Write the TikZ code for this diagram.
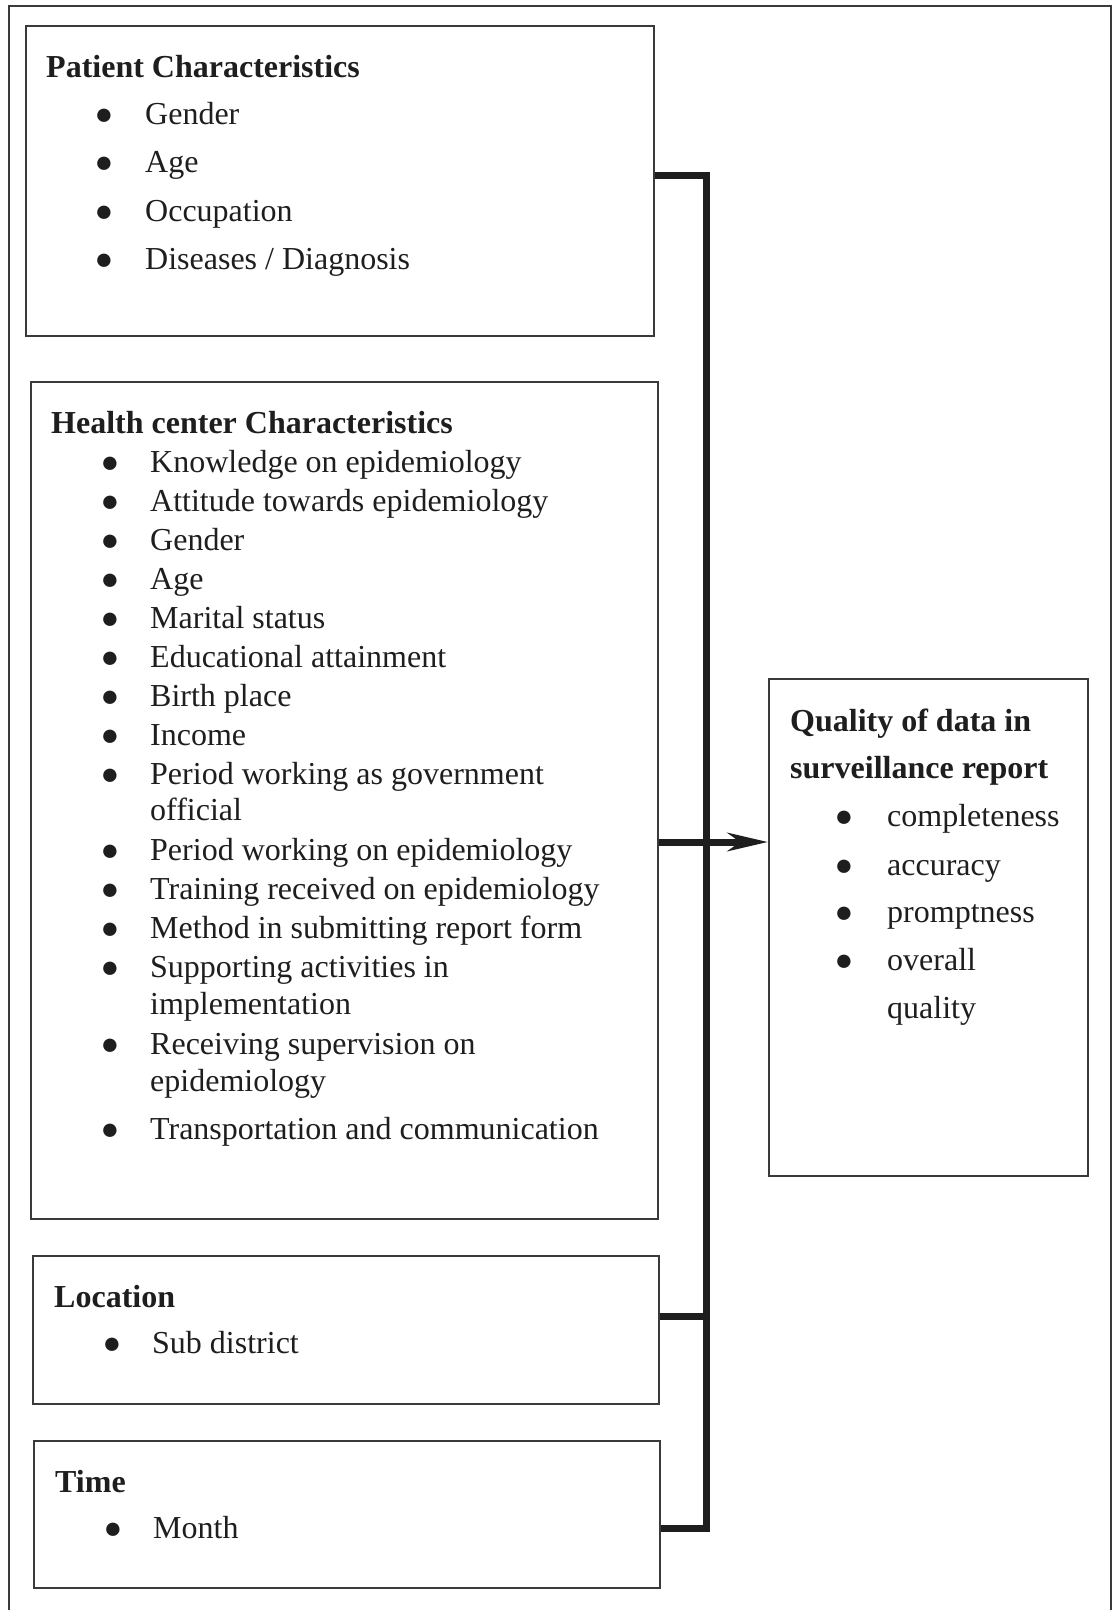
\documentclass[tikz,border=0pt]{standalone}
\usepackage{fontspec}
\setmainfont{Liberation Serif}
\usetikzlibrary{arrows.meta}
\definecolor{ink}{HTML}{1E1E1E}
\definecolor{frame}{HTML}{3A3A3A}
\tikzset{
  boxst/.style={draw=frame, line width=1.8pt, inner sep=0pt, fill=none},
  txt/.style={anchor=base west, inner sep=0pt, text=ink, font=\fontsize{32}{38}\selectfont},
  ttl/.style={anchor=base west, inner sep=0pt, text=ink, font=\fontsize{32}{38}\selectfont\bfseries},
  bul/.style={anchor=base, inner sep=0pt, text=ink, font=\fontsize{31}{34}\selectfont},
  conn/.style={draw=ink, line width=7pt, line join=miter},
}
\begin{document}
\begin{tikzpicture}[x=1pt,y=-1pt]
\useasboundingbox (0,0) rectangle (1114,1610);
\fill[white] (0,0) rectangle (1114,1610);
% outer frame
\draw[frame, line width=2pt] (9,1612) -- (9,6) -- (1111,6) -- (1111,1612);

% boxes
\node[boxst, minimum width=628pt, minimum height=310pt] (pc) at (340,181) {};
\node[boxst, minimum width=627pt, minimum height=837pt] (hc) at (344.5,800.5) {};
\node[boxst, minimum width=626pt, minimum height=148pt] (loc) at (346,1330) {};
\node[boxst, minimum width=626pt, minimum height=147pt] (tm) at (347,1514.5) {};
\node[boxst, minimum width=319pt, minimum height=497pt] (q) at (928.5,927.5) {};

% Patient characteristics
\node[ttl] (pct) at (46,77) {Patient Characteristics};
\foreach \y/\t [count=\i] in {124/{Gender},172.5/{Age},221/{Occupation},269/{Diseases / Diagnosis}}{
  \node[bul] (pcb\i) at (104,\y) {●};
  \node[txt] (pcl\i) at (145,\y) {\t};
}

% Health center characteristics
\node[ttl] (hct) at (51,433) {Health center Characteristics};
\foreach \y/\t [count=\i] in {472/Knowledge on epidemiology,511/Attitude towards epidemiology,550/Gender,589/Age,628/Marital status,667/Educational attainment,706/Birth place,745/Income,784/Period working as government,860/Period working on epidemiology,899/Training received on epidemiology,938/Method in submitting report form,977/Supporting activities in,1054/Receiving supervision on,1139/Transportation and communication}{
  \node[bul] (hcb\i) at (110,\y) {●};
  \node[txt] (hcl\i) at (150,\y) {\t};
}
\node[txt] (hcc1) at (150,820) {official};
\node[txt] (hcc2) at (150,1014) {implementation};
\node[txt] (hcc3) at (150,1091) {epidemiology};

% Location
\node[ttl] (loct) at (54,1307) {Location};
\node[bul] (locb) at (112,1353) {●};
\node[txt] (locl) at (152,1353) {Sub district};

% Time
\node[ttl] (tmt) at (55,1492) {Time};
\node[bul] (tmb) at (113,1538) {●};
\node[txt] (tml) at (153,1538) {Month};

% Quality
\node[ttl] (qt1) at (790,731) {Quality of data in};
\node[ttl] (qt2) at (790,778) {surveillance report};
\foreach \y/\t [count=\i] in {826/completeness,875/accuracy,922/promptness,970/overall}{
  \node[bul] (qb\i) at (844,\y) {●};
  \node[txt] (ql\i) at (887,\y) {\t};
}
\node[txt] (ql5) at (887,1018) {quality};

% connectors
\coordinate (top) at (706,175);
\coordinate (bot) at (706,1528);
\coordinate (lj) at (706,1316);
\coordinate (aj) at (706,842);
\draw[conn] (pc.east |- top) -- (top) -- ([yshift=3.5pt]bot) ;
\draw[conn] (tm.east |- bot) -- ([xshift=3.5pt]bot);
\draw[conn] (loc.east |- lj) -- (lj);
\draw[conn, -{Stealth[length=40pt,width=18pt,inset=12pt]}] (hc.east |- aj) -- (q.west |- aj);
\end{tikzpicture}
\end{document}
